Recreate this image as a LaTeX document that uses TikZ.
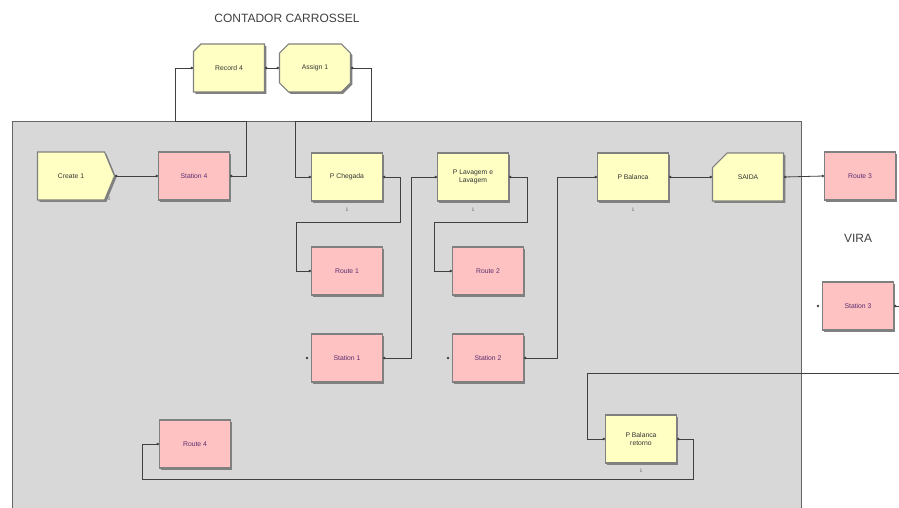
\documentclass[tikz,border=0pt]{standalone}
\usepackage{fontspec}
\setmainfont{Liberation Sans}
\usetikzlibrary{shapes.misc,shapes.symbols,shadows,arrows.meta,calc}
\definecolor{modyellow}{HTML}{FFFFC4}
\definecolor{modpink}{HTML}{FFC2C2}
\definecolor{bggray}{HTML}{D8D8D8}
\definecolor{labelpurple}{HTML}{5A2E6E}
\def\freedot(#1){\fill[black!75] ($(#1)+(-4,0)$) circle (1.3);}

\begin{document}
\begin{tikzpicture}[x=1pt,y=-1pt,
    module/.style={draw=black!50, line width=1.1pt, minimum width=71pt, minimum height=48pt,
      inner sep=1pt, align=center, font=\fontsize{6.8}{7.8}\selectfont,
      drop shadow={shadow xshift=1.8pt, shadow yshift=-1.8pt, fill=black!50, opacity=1}},
    logic/.style={module, fill=modyellow, text=black!80},
    station/.style={module, fill=modpink, text=labelpurple},
    conn/.style={draw=black!75, line width=0.8pt, {Circle[length=2.5pt]}-{Circle[length=2.5pt]}},
    cnt/.style={font=\fontsize{5}{5}\selectfont, text=black!60, inner sep=1pt},
    heading/.style={font=\fontsize{12}{12}\selectfont, text=black!75}]
  %%%%% START %%%%%
  \useasboundingbox (0,0) rectangle (899,508);
  \draw[fill=bggray, draw=black!60, line width=0.8pt] (12,121) rectangle (801,520);

  \node[heading] (contador) at (287,18) {CONTADOR CARROSSEL};
  \node[heading] (vira) at (858,238) {VIRA};

  % contador
  \node[logic, chamfered rectangle, chamfered rectangle corners=north west,
    chamfered rectangle xsep=4pt, chamfered rectangle ysep=4pt] (record4) at (229,68) {Record 4};
  \node[logic, chamfered rectangle, chamfered rectangle xsep=5pt,
    chamfered rectangle ysep=5pt] (assign1) at (315,68) {Assign 1};

  % linha de cima
  \node[logic, signal, signal to=east, signal pointer angle=135, minimum width=77pt] (create1) at (71,176) {Create 1};
  \node[cnt] (create1 cnt) at (109,199) {0};
  \node[station] (station4) at (194,176) {Station 4};
  \node[logic, label={[cnt, label distance=5pt]below:1}] (pchegada) at (347,177) {P Chegada};
  \node[logic, label={[cnt, label distance=5pt]below:1}] (plavagem) at (473,177) {P Lavagem e\\Lavagem};
  \node[logic, label={[cnt, label distance=5pt]below:1}] (pbalanca) at (633,177) {P Balanca};
  \node[logic, chamfered rectangle, chamfered rectangle corners=north west,
    chamfered rectangle xsep=15pt, chamfered rectangle ysep=16pt] (saida) at (748,177) {SAIDA};
  \node[station] (route3) at (860,176) {Route 3};

  % routes e stations
  \node[station] (route1) at (347,271) {Route 1};
  \node[station] (route2) at (488,271) {Route 2};
  \node[station] (station1) at (347,358) {Station 1};
  \node[station] (station2) at (488,358) {Station 2};
  \node[station] (station3) at (858,306) {Station 3};

  % retorno
  \node[logic, label={[cnt, label distance=4pt]below:1}] (pbalret) at (641,439) {P Balanca\\retorno};
  \node[station] (route4) at (195,444) {Route 4};

  % conexoes
  \draw[conn] (record4.east) -- (assign1.west);
  \draw[conn] (station4.east) -| (246,121) -| (175,68) -- (record4.west);
  \draw[conn] (assign1.east) -| (371,121) -| (295,177) -- (pchegada.west);
  \draw[conn] (create1.east) -- (station4.west);
  \draw[conn] (pchegada.east) -| (400,222) -| (296,271) -- (route1.west);
  \draw[conn] (station1.east) -| (411,177) -- (plavagem.west);
  \draw[conn] (plavagem.east) -| (527,222) -| (434,271) -- (route2.west);
  \draw[conn] (station2.east) -| (557,177) -- (pbalanca.west);
  \draw[conn] (pbalanca.east) -- (saida.west);
  \draw[conn] (saida.east) -- (route3.west);

  \coordinate (viraIn) at (899,373);
  \draw[conn, -{Circle[length=2.5pt]}] (viraIn) -| (587,439) -- (pbalret.west);
  \draw[conn] (pbalret.east) -| (693,479) -| (142,444) -- (route4.west);
  \draw[conn, {Circle[length=2.5pt]}-] (station3.east) -- ++(6,0);

  \freedot(station1.west)
  \freedot(station2.west)
  \freedot(station3.west)
  %%%%% END %%%%%
\end{tikzpicture}
\end{document}
